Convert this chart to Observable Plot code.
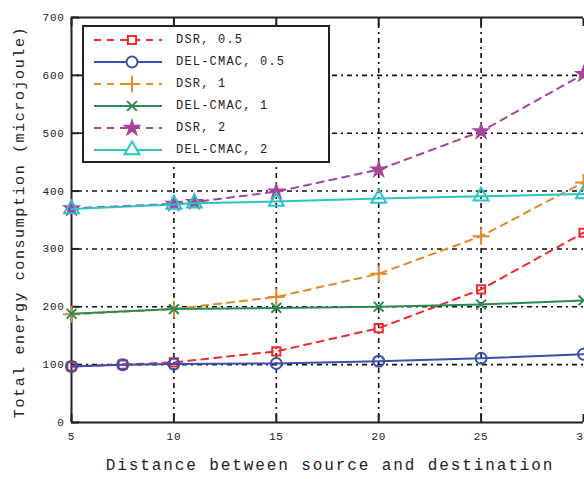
<!DOCTYPE html>
<html><head><meta charset="utf-8">
<script src="https://cdn.jsdelivr.net/npm/d3@7"></script>
<script src="https://cdn.jsdelivr.net/npm/@observablehq/plot@0.6"></script>
<style>
html,body{margin:0;padding:0;background:#fff;overflow:hidden;width:584px;height:479px;}
#wrap{position:relative;width:584px;height:479px;overflow:hidden;}
#chart svg{max-width:none !important;}
#legend{position:absolute;left:82px;top:25px;width:244px;height:134px;border:2px solid #222;background:#fff;font-family:"Liberation Mono","DejaVu Sans Mono",monospace;font-size:12px;letter-spacing:1.2px;color:#222;}
.row{position:absolute;left:8px;height:22px;display:flex;align-items:center;}
.row span{margin-left:12px;}
</style></head>
<body><div id="wrap"><div id="chart"></div><div id="legend"></div></div>
<script>
const xHalf = [5, 7.5, 10, 15, 20, 25, 30];
const xOne = [5, 10, 15, 20, 25, 30];
const xTwo = [5, 10, 11, 15, 20, 25, 30];
const dsr05 = [97, 100, 104, 123, 163, 230, 328];
const del05 = [97, 100, 101, 102, 106, 111, 118];
const dsr1 = [187, 196, 217, 257, 322, 415];
const del1 = [188, 196, 198, 200, 204, 211];
const dsr2 = [370, 378, 381, 399, 437, 503, 602];
const del2 = [369, 377, 379, 382, 387, 391, 395];
const seriesNames = ["DSR, 0.5", "DEL-CMAC, 0.5", "DSR, 1", "DEL-CMAC, 1", "DSR, 2", "DEL-CMAC, 2"];
const seriesColors = ["#ee2b2b", "#3b4fae", "#e3892a", "#2a8a52", "#a6459e", "#2cc3c3"];
const seriesSymbols = ["square", "circle", "plus", "times", "star", "triangle"];
const seriesDashed = [true, false, true, false, true, false];
const xTicks = [5, 10, 15, 20, 25, 30];
const yTicks = [0, 100, 200, 300, 400, 500, 600, 700];
const xLabel = "Distance between source and destination";
const yLabel = "Total energy consumption (microjoule)";

const seriesX = [xHalf, xHalf, xOne, xOne, xTwo, xTwo];
const seriesY = [dsr05, del05, dsr1, del1, dsr2, del2];
const symbolR = {square: 4.6, circle: 5.5, plus: 5.5, times: 4.5, star: 4.2, triangle: 5.5};
const data = [];
seriesNames.forEach((n, i) => seriesX[i].forEach((x, j) => data.push({name: n, i, x, y: seriesY[i][j]})));

const font = '"Liberation Mono","DejaVu Sans Mono",monospace';
const marks = [
  Plot.gridX(xTicks.slice(1, -1), {stroke: "#111", strokeOpacity: 1, strokeWidth: 1.6, strokeDasharray: "2,4,5,4"}),
  Plot.gridY(yTicks.slice(1, -1), {stroke: "#111", strokeOpacity: 1, strokeWidth: 1.6, strokeDasharray: "2,4,5,4"}),
  Plot.ruleX([5], {stroke: "#222", strokeWidth: 2}),
  Plot.ruleY([0, 700], {stroke: "#222", strokeWidth: 2}),
  Plot.axisY({ticks: yTicks, tickSize: 8, dx: 8, tickFormat: () => "", stroke: "#222", strokeWidth: 2}),
  Plot.axisX({ticks: xTicks, anchor: "bottom", tickSize: 8, dy: -8, tickFormat: () => "", stroke: "#222", strokeWidth: 2}),
  Plot.axisX({ticks: xTicks, anchor: "top", tickSize: 8, dy: 8, tickFormat: () => "", stroke: "#222", strokeWidth: 2}),
  Plot.axisY({ticks: yTicks, tickSize: 0, tickPadding: 7, fontSize: 11, fill: "#222"}),
  Plot.axisX({ticks: xTicks, anchor: "bottom", tickSize: 0, tickPadding: 10, fontSize: 11, fill: "#222"})
];
seriesNames.forEach((n, i) => {
  const d = data.filter(r => r.i === i);
  marks.push(Plot.line(d, {x: "x", y: "y", stroke: seriesColors[i], strokeWidth: 2, strokeDasharray: seriesDashed[i] ? "7,6" : null}));
  const filled = seriesSymbols[i] === "star";
  marks.push(Plot.dot(d, {x: "x", y: "y", symbol: seriesSymbols[i], r: symbolR[seriesSymbols[i]], stroke: seriesColors[i], strokeWidth: 2, fill: filled ? seriesColors[i] : "none"}));
});

const chart = Plot.plot({
  width: 620, height: 479,
  marginLeft: 71, marginRight: 37, marginTop: 17, marginBottom: 57,
  style: {fontFamily: font, fontSize: "11px", letterSpacing: "0.7px", background: "#fff", color: "#222", maxWidth: "none"},
  x: {domain: [5, 30], label: null},
  y: {domain: [0, 700], label: null},
  marks
});
document.getElementById("chart").appendChild(chart);

// axis titles
const svg = d3.select(chart);
svg.append("text").attr("x", 330).attr("y", 470).attr("text-anchor", "middle")
  .style("font-family", font).style("font-size", "16px").style("letter-spacing", "1.9px").attr("fill", "#222").text(xLabel);
svg.append("text").attr("transform", "translate(24,222) rotate(-90)").attr("text-anchor", "middle")
  .style("font-family", font).style("font-size", "15px").style("letter-spacing", "1.6px").attr("fill", "#222").text(yLabel);

// legend
const leg = d3.select("#legend");
const symMap = {square: d3.symbolSquare, circle: d3.symbolCircle, plus: d3.symbolPlus, times: d3.symbolTimes, star: d3.symbolStar, triangle: d3.symbolTriangle};
seriesNames.forEach((n, i) => {
  const row = leg.append("div").attr("class", "row").style("top", (2 + i * 22) + "px");
  const s = row.append("svg").attr("width", 72).attr("height", 22);
  s.append("line").attr("x1", 2).attr("x2", 70).attr("y1", 11).attr("y2", 11)
    .attr("stroke", seriesColors[i]).attr("stroke-width", 2).attr("stroke-dasharray", seriesDashed[i] ? "7,6" : null);
  const filled = seriesSymbols[i] === "star";
  const r = symbolR[seriesSymbols[i]];
  s.append("path").attr("transform", "translate(40,11)").attr("d", d3.symbol(symMap[seriesSymbols[i]], r * r * Math.PI)())
    .attr("stroke", seriesColors[i]).attr("stroke-width", 2).attr("fill", filled ? seriesColors[i] : (seriesSymbols[i] === "plus" || seriesSymbols[i] === "times" ? "none" : "#fff"));
  row.append("span").text(n);
});
</script></body></html>
